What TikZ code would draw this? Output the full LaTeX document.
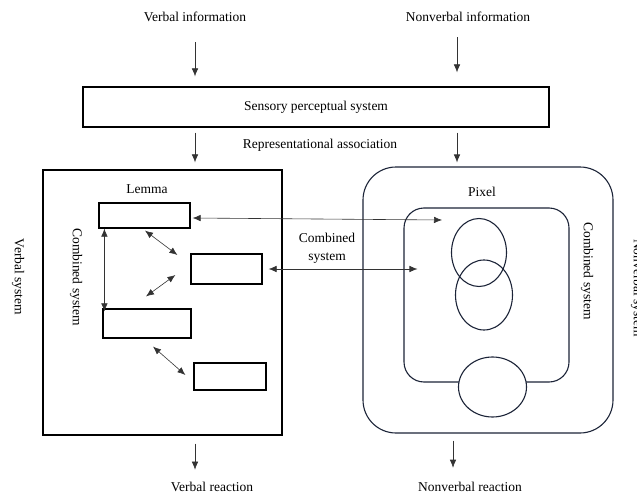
\documentclass[tikz,border=0pt]{standalone}
\usepackage{fontspec}
\setmainfont{Liberation Serif}
\usetikzlibrary{arrows.meta,shapes.geometric}
\definecolor{navy}{RGB}{28,36,56}
\begin{document}
\begin{tikzpicture}[x=1pt,y=-1pt,
  every node/.style={font=\fontsize{13.5}{18}\selectfont},
  blk/.style={draw,line width=1.2pt,inner sep=0pt},
  rbox/.style={draw=navy,line width=1.1pt,inner sep=0pt},
  ring/.style={draw=navy,line width=1.1pt,ellipse,inner sep=0pt},
  arr/.style={draw=black!80,line width=0.6pt,-{Latex[length=8pt,width=6.5pt]}},
  dbl/.style={draw=black!80,line width=0.6pt,{Latex[length=8pt,width=6.5pt]}-{Latex[length=8pt,width=6.5pt]}}]
  \useasboundingbox (0,0) rectangle (637,495);
  \node (vinfo) at (195,17) {Verbal information};
  \node (ninfo) at (468,17) {Nonverbal information};
  \node[blk,minimum width=466,minimum height=40] (sensory) at (316,107) {Sensory perceptual system};
  \node (assoc) at (320,145) {Representational association};
  \node[blk,minimum width=239,minimum height=265] (lembox) at (162.5,302.5) {};
  \node[rbox,rounded corners=33pt,minimum width=250,minimum height=266] (pixbox) at (488,300) {};
  \node[rbox,rounded corners=20pt,minimum width=165,minimum height=174] (inbox) at (486.5,295) {};
  \node[ring,minimum width=55,minimum height=68] (circ1) at (479,252.5) {};
  \node[ring,minimum width=57,minimum height=70] (circ2) at (484,295) {};
  \node[ring,fill=white,minimum width=68,minimum height=60] (circ3) at (492.5,387) {};
  \node (lemma) at (147,189) {Lemma};
  \node (pixel) at (482,192) {Pixel};
  \node[blk,minimum width=91,minimum height=25] (b1) at (144.5,215.5) {};
  \node[blk,minimum width=71,minimum height=30] (b2) at (226.5,269) {};
  \node[blk,minimum width=88,minimum height=29] (b3) at (147,323.5) {};
  \node[blk,minimum width=72,minimum height=27] (b4) at (230,376.5) {};
  \node[rotate=-90] (lcomb) at (76,277) {Combined system};
  \node[rotate=-90] (rcomb) at (587,271) {Combined system};
  \node[rotate=-90] (vsys) at (18,277) {Verbal system};
  \node[rotate=-90] (nsys) at (637,288) {Nonverbal system};
  \node[align=center] (comb) at (327,248) {Combined\\system};
  \node (vreact) at (212,487) {Verbal reaction};
  \node (nreact) at (470,487) {Nonverbal reaction};
  \draw[arr,shorten <=17pt,shorten >=10pt] (vinfo.south) -- (vinfo.south |- sensory.north);
  \draw[arr,shorten <=12pt,shorten >=14pt] ([xshift=-11pt]ninfo.south) -- ([xshift=-11pt]ninfo.south |- sensory.north);
  \draw[arr,shorten <=5pt,shorten >=7pt] (sensory.south -| vinfo.south) -- (vinfo.south |- lembox.north);
  \draw[arr,shorten <=5pt,shorten >=4pt] ([xshift=-11pt]sensory.south -| ninfo.south) -- ([xshift=-11pt]ninfo.south |- pixbox.north);
  \draw[arr,shorten <=8pt,shorten >=9pt] (lembox.south -| vinfo.south) -- (vinfo.south |- vreact.north);
  \draw[arr,shorten <=7pt,shorten >=11pt] ([xshift=-17pt]pixbox.south -| nreact.north) -- ([xshift=-17pt]nreact.north);
  \draw[dbl] ([xshift=6pt]b1.south west) -- ([shift={(6,3)}]b1.south west |- b3.north);
  \draw[dbl] ([shift={(0.5,2)}]b1.south) -- ([shift={(-13,-14)}]b2.west);
  \draw[dbl] ([shift={(-15,6)}]b2.west) -- ([shift={(-1,-12)}]b3.north);
  \draw[dbl] ([shift={(6,8)}]b3.south) -- ([shift={(-8,-1.5)}]b4.west);
  \draw[dbl] ([shift={(2,2.5)}]b1.east) -- ([shift={(-37,-32.5)}]circ1.center);
  \draw[dbl] ([xshift=6pt]b2.east) -- ([xshift=14pt]b2.east -| inbox.west);
\end{tikzpicture}
\end{document}
